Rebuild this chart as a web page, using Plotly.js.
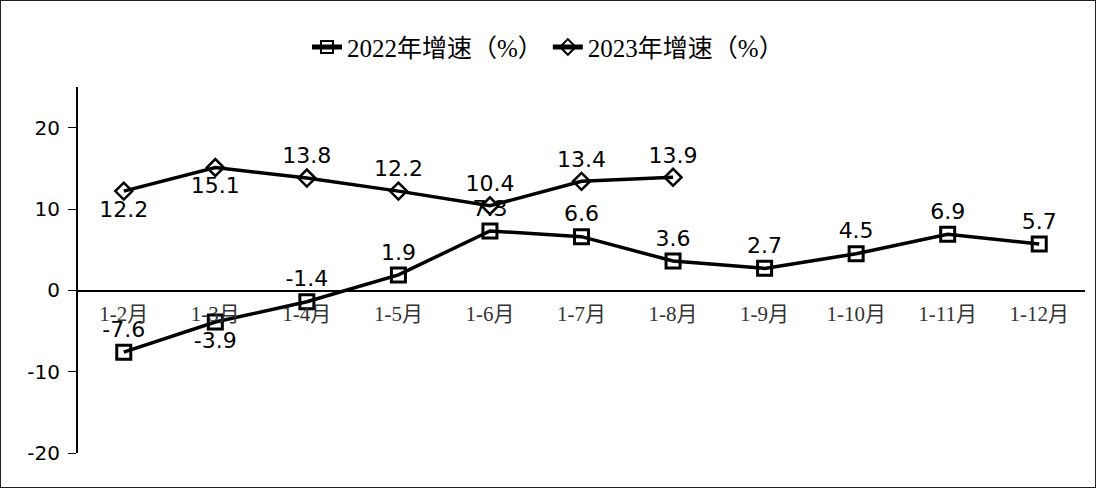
<!DOCTYPE html>
<html><head><meta charset="utf-8">
<script src="https://cdn.plot.ly/plotly-3.0.1.min.js"></script>
<style>
html,body{margin:0;padding:0;background:#fff;}
#frame{width:1096px;height:488px;box-sizing:border-box;border:1px solid #222;overflow:hidden;}
#chart{width:1094px;height:486px;}
</style></head>
<body><div id="frame"><div id="chart"></div></div>
<script>
const categories = ["1-2月","1-3月","1-4月","1-5月","1-6月","1-7月","1-8月","1-9月","1-10月","1-11月","1-12月"];
const growth2022 = [-7.6,-3.9,-1.4,1.9,7.3,6.6,3.6,2.7,4.5,6.9,5.7];
const growth2023 = [12.2,15.1,13.8,12.2,10.4,13.4,13.9];
const pos2022 = ["top center","bottom center","top center","top center","top center","top center","top center","top center","top center","top center","top center"];
const pos2023 = ["bottom center","bottom center","top center","top center","top center","top center","top center"];
const yTickVals = [20,10,0,-10,-20];
const yTickText = ["20","10","0","-10","-20"];
const name2022 = "2022年增速（%）";
const name2023 = "2023年增速（%）";

const serif = "Liberation Serif, 'Noto Sans CJK SC', serif";
const sans = "DejaVu Sans, Verdana, sans-serif";

const traces = [
  {x: categories, y: growth2022, name: name2022, type: 'scatter', mode: 'lines+markers+text',
   text: growth2022.map(v => v.toFixed(1)), textposition: pos2022,
   textfont: {family: sans, size: 22, color: '#000'},
   line: {color: '#000', width: 3.5},
   marker: {symbol: 'square-open', size: 14, color: '#000', line: {width: 3, color: '#000'}},
   cliponaxis: false},
  {x: categories.slice(0, growth2023.length), y: growth2023, name: name2023, type: 'scatter', mode: 'lines+markers+text',
   text: growth2023.map(v => v.toFixed(1)), textposition: pos2023,
   textfont: {family: sans, size: 22, color: '#000'},
   line: {color: '#000', width: 3.5},
   marker: {symbol: 'diamond-open', size: 13, color: '#000', line: {width: 2.5, color: '#000'}},
   cliponaxis: false}
];

const layout = {
  width: 1094, height: 486,
  margin: {l: 77, r: 10, t: 86, b: 34},
  paper_bgcolor: '#fff', plot_bgcolor: '#fff',
  showlegend: true,
  legend: {orientation: 'h', x: 0.5, xref: 'container', xanchor: 'center',
           y: 0.905, yref: 'container', yanchor: 'middle',
           font: {family: serif, size: 25, color: '#000'}, itemwidth: 30, tracegroupgap: 0,
           itemsizing: 'constant'},
  xaxis: {type: 'category', range: [-0.5, 10.5], anchor: 'free', position: 20/45,
          showline: true, linecolor: '#000', linewidth: 1.5, ticks: '', showgrid: false, zeroline: false,
          ticklabelstandoff: 4,
          tickfont: {family: serif, size: 21, color: '#333'}, fixedrange: true},
  yaxis: {range: [-20, 25], tickvals: yTickVals, ticktext: yTickText,
          showline: true, linecolor: '#000', linewidth: 2, ticks: 'outside', ticklen: 8, tickcolor: '#000', tickwidth: 1,
          showgrid: false, zeroline: false, ticklabelstandoff: 4,
          tickfont: {family: sans, size: 20, color: '#000'}, fixedrange: true}
};

Plotly.newPlot('chart', traces, layout, {displayModeBar: false, staticPlot: true});
</script>
</body></html>
